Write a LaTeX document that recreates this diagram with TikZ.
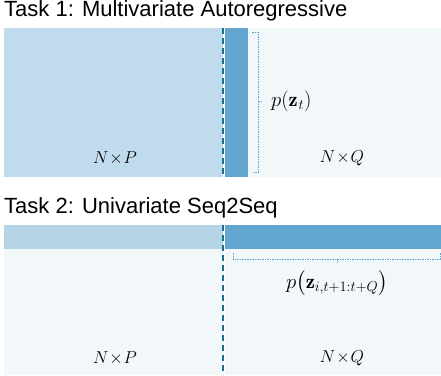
\documentclass[tikz,border=0pt]{standalone}
\usepackage{fontspec}
\usepackage{amsmath}
\newfontfamily\arialfont{Liberation Sans}
\definecolor{lightA}{HTML}{BFDBED}
\definecolor{lightB}{HTML}{B5D5E7}
\definecolor{darkbar}{HTML}{62A5CE}
\definecolor{pale}{HTML}{F2F7FA}
\definecolor{dashc}{HTML}{1E6B8C}
\definecolor{bracec}{HTML}{5AA7D6}
\begin{document}
\begin{tikzpicture}[x=1pt,y=-1pt,
  title/.style={anchor=west,inner sep=0pt,font=\arialfont\fontsize{22}{25}\selectfont},
  dimlabel/.style={inner sep=0pt,font=\fontsize{17}{20}\selectfont},
  plabel/.style={inner sep=0pt,font=\fontsize{20.5}{24}\selectfont},
  divider/.style={dashc,line width=1.8pt,dash pattern=on 6pt off 4pt},
  whiteline/.style={white,line width=1.2pt},
  bracket/.style={bracec,line width=0.6pt,dash pattern=on 1.5pt off 1pt}]
\useasboundingbox (0,0) rectangle (441,375);
% Task 1
\node[title] (t1) at (4,10.5) {Task 1: Multivariate Autoregressive};
\fill[lightA] (4,28) rectangle (223,177);
\fill[darkbar] (225,28) rectangle (248,177);
\fill[pale] (248,28) rectangle (441,177);
\draw[whiteline] (224.6,28) -- (224.6,177);
\draw[divider] (223,28) -- (223,177);
\coordinate (b1a) at (252,32);
\coordinate (b1b) at (252,172);
\coordinate (b1m) at (262,101);
\draw[bracket] (b1a) -- (258,32) -- (258,172) -- (b1b);
\draw[bracket] (258,101) -- (b1m);
\node[plabel,anchor=west] (p1) at (271,101) {$p(\mathbf{z}_{\mkern1mu t})$};
\node[dimlabel] (np1) at (115,158) {$N\mkern-3mu\times\mkern-3mu P$};
\node[dimlabel] (nq1) at (342,158) {$N\mkern-3mu\times\mkern-3mu Q$};
% Task 2
\node[title] (t2) at (4,208) {Task 2: Univariate Seq2Seq};
\fill[pale] (4,249) rectangle (441,375);
\fill[lightB] (4,225) rectangle (223,249);
\fill[darkbar] (225,225) rectangle (441,249);
\draw[whiteline] (224.6,225) -- (224.6,375);
\draw[divider] (223,225) -- (223,375);
\coordinate (b2a) at (233,253);
\coordinate (b2b) at (440,253);
\coordinate (b2m) at (337,263);
\draw[bracket] (b2a) -- (233,259) -- (440,259) -- (b2b);
\draw[bracket] (337,259) -- (b2m);
\node[plabel] (p2) at (337,283) {$p\bigl(\mathbf{z}_{i,t+1:t+Q}\bigr)$};
\node[dimlabel] (np2) at (115,358) {$N\mkern-3mu\times\mkern-3mu P$};
\node[dimlabel] (nq2) at (342,358) {$N\mkern-3mu\times\mkern-3mu Q$};
\end{tikzpicture}
\end{document}
